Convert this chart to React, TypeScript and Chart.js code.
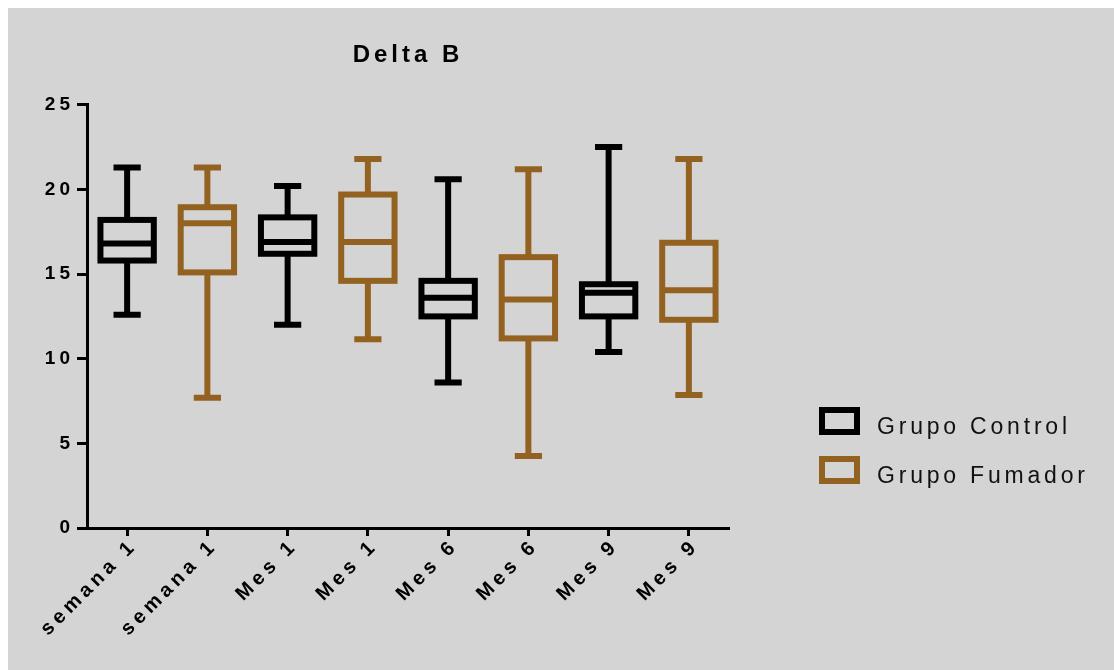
import React, { useEffect, useRef } from 'react';
import { Chart, registerables } from 'chart.js';

Chart.register(...registerables);

// ---------- data ----------
const categories = ['semana 1', 'semana 1', 'Mes 1', 'Mes 1', 'Mes 6', 'Mes 6', 'Mes 9', 'Mes 9'];
const seriesNames = ['Grupo Control', 'Grupo Fumador'];
const seriesColors = ['#000000', '#946220'];

// category index of each box
const controlSlots = [0, 2, 4, 6];
const fumadorSlots = [1, 3, 5, 7];

const controlMin = [12.6, 12.0, 8.6, 10.4];
const controlQ1 = [15.8, 16.2, 12.5, 12.5];
const controlMedian = [16.8, 16.9, 13.6, 13.9];
const controlQ3 = [18.2, 18.35, 14.6, 14.4];
const controlMax = [21.3, 20.2, 20.6, 22.5];

const fumadorMin = [7.7, 11.15, 4.25, 7.85];
const fumadorQ1 = [15.1, 14.6, 11.2, 12.3];
const fumadorMedian = [18.0, 16.9, 13.5, 14.05];
const fumadorQ3 = [18.95, 19.7, 16.0, 16.85];
const fumadorMax = [21.3, 21.8, 21.2, 21.8];

const yMin = 0;
const yMax = 25;
const yStep = 5;

const FONT = "'Liberation Sans', Arial, Helvetica, sans-serif";

type Stat = { min: number; q1: number; med: number; q3: number; max: number } | null;

function buildStats(slots: number[], mn: number[], q1: number[], md: number[], q3: number[], mx: number[]): Stat[] {
  const out: Stat[] = categories.map(() => null);
  slots.forEach((slot, i) => {
    out[slot] = { min: mn[i], q1: q1[i], med: md[i], q3: q3[i], max: mx[i] };
  });
  return out;
}

const controlStats = buildStats(controlSlots, controlMin, controlQ1, controlMedian, controlQ3, controlMax);
const fumadorStats = buildStats(fumadorSlots, fumadorMin, fumadorQ1, fumadorMedian, fumadorQ3, fumadorMax);

const spacingPlugin = {
  id: 'letterSpacing',
  beforeLayout(chart: any) {
    chart.ctx.letterSpacing = '4px';
  },
  afterLayout(chart: any) {
    const sx = chart.scales.x;
    if (sx && !sx.__spaced) {
      const orig = sx.drawLabels.bind(sx);
      sx.drawLabels = (area: any) => {
        const ctx = chart.ctx;
        ctx.save();
        ctx.letterSpacing = '4.5px';
        ctx.translate(7, -4);
        orig(area);
        ctx.restore();
      };
      sx.__spaced = true;
    }
  },
  beforeDraw(chart: any) {
    chart.ctx.letterSpacing = '4px';
  },
};

const boxPlugin = {
  id: 'boxWhisker',
  afterDatasetsDraw(chart: any) {
    const ctx = chart.ctx;
    const y = chart.scales.y;
    chart.data.datasets.forEach((ds: any, di: number) => {
      const meta = chart.getDatasetMeta(di);
      (ds.stats as Stat[]).forEach((s, j) => {
        if (!s) return;
        const el = meta.data[j];
        const cx = el.x;
        const w = el.width;
        const capW = w * 0.51;
        const pMin = y.getPixelForValue(s.min);
        const pQ1 = y.getPixelForValue(s.q1);
        const pMed = y.getPixelForValue(s.med);
        const pQ3 = y.getPixelForValue(s.q3);
        const pMax = y.getPixelForValue(s.max);
        ctx.save();
        ctx.strokeStyle = ds.lineColor;
        ctx.lineWidth = 6;
        ctx.lineCap = 'butt';
        ctx.lineJoin = 'miter';
        ctx.beginPath();
        ctx.moveTo(cx, pQ3);
        ctx.lineTo(cx, pMax);
        ctx.moveTo(cx, pQ1);
        ctx.lineTo(cx, pMin);
        ctx.stroke();
        ctx.beginPath();
        ctx.moveTo(cx - capW / 2, pMax);
        ctx.lineTo(cx + capW / 2, pMax);
        ctx.moveTo(cx - capW / 2, pMin);
        ctx.lineTo(cx + capW / 2, pMin);
        ctx.stroke();
        ctx.strokeRect(cx - w / 2, pQ3, w, pQ1 - pQ3);
        ctx.beginPath();
        ctx.moveTo(cx - w / 2, pMed);
        ctx.lineTo(cx + w / 2, pMed);
        ctx.stroke();
        ctx.restore();
      });
    });
  },
  afterDraw(chart: any) {
    // legend
    const ctx = chart.ctx;
    const area = chart.chartArea;
    const boxLeft = area.right + 93;
    const firstTop = 402;
    const step = 49;
    chart.data.datasets.forEach((ds: any, i: number) => {
      const top = firstTop + i * step;
      ctx.save();
      ctx.strokeStyle = ds.lineColor;
      ctx.lineWidth = 6;
      ctx.strokeRect(boxLeft, top, 35, 22);
      ctx.letterSpacing = '3.8px';
      ctx.font = `23px ${FONT}`;
      ctx.fillStyle = '#111111';
      ctx.textAlign = 'left';
      ctx.textBaseline = 'alphabetic';
      ctx.fillText(ds.label, boxLeft + 55, top + 23.5);
      ctx.restore();
    });
  },
};

function slotData(stats: Stat[]) {
  return stats.map((s) => (s ? [s.q1, s.q3] : null));
}

export default function App() {
  const ref = useRef<HTMLCanvasElement>(null);

  useEffect(() => {
    const canvas = ref.current;
    if (!canvas) return;
    const chart = new Chart(canvas, {
      type: 'bar',
      data: {
        labels: categories,
        datasets: [
          {
            label: seriesNames[0],
            data: slotData(controlStats) as any,
            backgroundColor: 'rgba(0,0,0,0)',
            borderWidth: 0,
            grouped: false,
            barPercentage: 0.665,
            categoryPercentage: 1,
            stats: controlStats,
            lineColor: seriesColors[0],
          } as any,
          {
            label: seriesNames[1],
            data: slotData(fumadorStats) as any,
            backgroundColor: 'rgba(0,0,0,0)',
            borderWidth: 0,
            grouped: false,
            barPercentage: 0.665,
            categoryPercentage: 1,
            stats: fumadorStats,
            lineColor: seriesColors[1],
          } as any,
        ],
      },
      options: {
        animation: false,
        responsive: false,
        devicePixelRatio: 1,
        events: [],
        layout: { padding: { left: 0, right: 385, top: 0, bottom: 0 } },
        plugins: {
          legend: { display: false },
          tooltip: { enabled: false },
          title: {
            display: true,
            text: 'Delta B',
            color: '#000',
            fullSize: false,
            font: { family: FONT, size: 24, weight: 'bold', lineHeight: 1.2 },
            padding: { top: 33, bottom: 35 },
          },
        },
        scales: {
          x: {
            type: 'category',
            offset: true,
            grid: {
              display: true,
              drawOnChartArea: false,
              drawTicks: true,
              tickLength: 8,
              tickWidth: 3,
              tickColor: '#000',
              color: '#000',
              offset: false,
            },
            border: { display: true, color: '#000', width: 3 },
            ticks: {
              autoSkip: false,
              maxRotation: 45,
              minRotation: 45,
              color: '#000',
              font: { family: FONT, size: 20, weight: 'bold' },
              padding: 2,
            },
            afterFit: (s: any) => {
              s.height = 142;
            },
          },
          y: {
            min: yMin,
            max: yMax,
            grid: {
              display: true,
              drawOnChartArea: false,
              drawTicks: true,
              tickLength: 10,
              tickWidth: 3,
              tickColor: '#000',
              color: '#000',
            },
            border: { display: true, color: '#000', width: 3 },
            ticks: {
              stepSize: yStep,
              color: '#000',
              font: { family: FONT, size: 19, weight: 'bold' },
              padding: 3,
            },
            afterFit: (s: any) => {
              s.width = 79;
            },
          },
        },
      } as any,
      plugins: [spacingPlugin, boxPlugin],
    });
    return () => chart.destroy();
  }, []);

  return (
    <div
      style={{
        position: 'fixed',
        left: 8,
        top: 8,
        width: 1106,
        height: 662,
        background: '#d4d4d4',
      }}
    >
      <canvas ref={ref} width={1106} height={662} style={{ display: 'block', width: 1106, height: 662 }} />
    </div>
  );
}
